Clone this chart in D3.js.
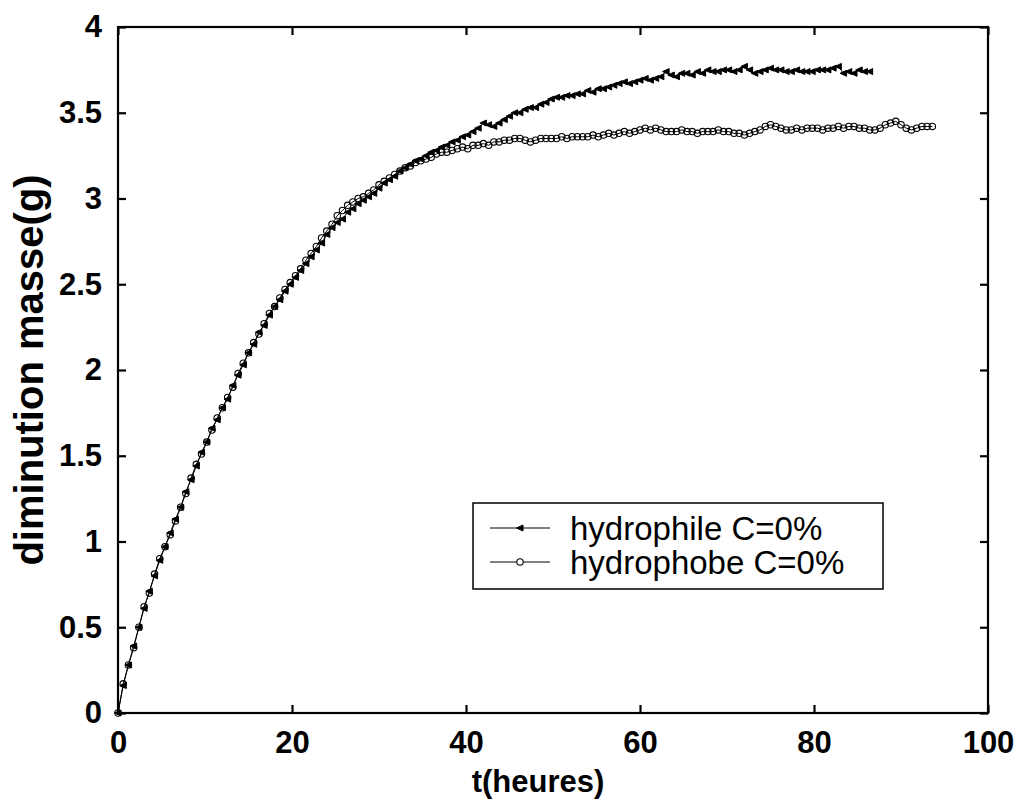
<!DOCTYPE html>
<html>
<head>
<meta charset="utf-8">
<script src="https://cdn.jsdelivr.net/npm/d3@7"></script>
<style>
  html, body { margin: 0; padding: 0; background: #fff; }
  svg { display: block; }
</style>
</head>
<body>
<svg id="chart" width="1019" height="801"></svg>
<script>
// ---------------- data ----------------
const timeStep = 0.6; // hours between samples
const xTicks = [0, 20, 40, 60, 80, 100];
const yTicks = [0, 0.5, 1, 1.5, 2, 2.5, 3, 3.5, 4];
const xTickLabels = ["0", "20", "40", "60", "80", "100"];
const yTickLabels = ["0", "0.5", "1", "1.5", "2", "2.5", "3", "3.5", "4"];
const xTitle = "t(heures)";
const yTitle = "diminution masse(g)";
const seriesNames = ["hydrophile C=0%", "hydrophobe C=0%"];

// mass loss (g), hydrophile, sampled every 0.6 h from t = 0
const hydrophile = [
  0, 0.16, 0.28, 0.39, 0.50, 0.61, 0.71, 0.80, 0.89, 0.97,
  1.05, 1.13, 1.20, 1.29, 1.36, 1.44, 1.52, 1.58, 1.66, 1.71,
  1.78, 1.83, 1.91, 1.97, 2.03, 2.10, 2.15, 2.22, 2.26, 2.32,
  2.37, 2.41, 2.46, 2.50, 2.54, 2.58, 2.62, 2.66, 2.70, 2.74,
  2.79, 2.83, 2.86, 2.88, 2.92, 2.94, 2.97, 2.99, 3.01, 3.03,
  3.06, 3.09, 3.11, 3.13, 3.16, 3.18, 3.20, 3.22, 3.23, 3.25,
  3.27, 3.28, 3.30, 3.31, 3.33, 3.34, 3.36, 3.37, 3.39, 3.41,
  3.44, 3.43, 3.42, 3.44, 3.46, 3.48, 3.50, 3.50, 3.52, 3.53,
  3.53, 3.55, 3.56, 3.58, 3.59, 3.59, 3.60, 3.60, 3.61, 3.61,
  3.63, 3.62, 3.64, 3.64, 3.65, 3.66, 3.67, 3.68, 3.67, 3.68,
  3.69, 3.70, 3.69, 3.70, 3.71, 3.74, 3.72, 3.71, 3.73, 3.73,
  3.72, 3.74, 3.73, 3.75, 3.74, 3.74, 3.75, 3.75, 3.74, 3.75,
  3.77, 3.75, 3.73, 3.74, 3.75, 3.76, 3.75, 3.75, 3.74, 3.74,
  3.75, 3.74, 3.74, 3.74, 3.75, 3.75, 3.75, 3.76, 3.77, 3.73,
  3.74, 3.73, 3.75, 3.74, 3.74
];

// mass loss (g), hydrophobe, sampled every 0.6 h from t = 0
const hydrophobe = [
  0, 0.17, 0.28, 0.38, 0.50, 0.62, 0.70, 0.81, 0.90, 0.97,
  1.04, 1.12, 1.20, 1.28, 1.37, 1.45, 1.51, 1.58, 1.65, 1.72,
  1.78, 1.84, 1.90, 1.98, 2.04, 2.10, 2.16, 2.21, 2.27, 2.33,
  2.37, 2.42, 2.47, 2.51, 2.55, 2.59, 2.64, 2.68, 2.72, 2.77,
  2.81, 2.85, 2.90, 2.93, 2.96, 2.98, 3.00, 3.01, 3.03, 3.05,
  3.08, 3.10, 3.12, 3.14, 3.16, 3.18, 3.19, 3.21, 3.22, 3.23,
  3.24, 3.26, 3.27, 3.27, 3.28, 3.29, 3.30, 3.29, 3.31, 3.31,
  3.32, 3.31, 3.33, 3.33, 3.34, 3.34, 3.35, 3.35, 3.34, 3.33,
  3.34, 3.35, 3.35, 3.35, 3.35, 3.36, 3.35, 3.36, 3.36, 3.36,
  3.36, 3.37, 3.36, 3.37, 3.38, 3.37, 3.38, 3.39, 3.38, 3.39,
  3.40, 3.41, 3.40, 3.41, 3.40, 3.39, 3.39, 3.39, 3.40, 3.39,
  3.39, 3.38, 3.39, 3.39, 3.39, 3.40, 3.39, 3.39, 3.38, 3.38,
  3.37, 3.38, 3.39, 3.40, 3.42, 3.43, 3.42, 3.41, 3.40, 3.40,
  3.41, 3.40, 3.41, 3.41, 3.41, 3.40, 3.41, 3.41, 3.42, 3.41,
  3.42, 3.42, 3.41, 3.41, 3.40, 3.40, 3.41, 3.43, 3.44, 3.45,
  3.43, 3.41, 3.40, 3.41, 3.42, 3.42, 3.42
];

// ---------------- layout ----------------
const plot = { left: 118, right: 988, top: 27, bottom: 713 };
const FONT = "'Liberation Sans', Arial, Helvetica, sans-serif";

const svg = d3.select("#chart");
svg.append("rect").attr("width", 1019).attr("height", 801).attr("fill", "#fff");

const x = d3.scaleLinear().domain([0, 100]).range([plot.left, plot.right]);
const y = d3.scaleLinear().domain([0, 4]).range([plot.bottom, plot.top]);

const toPoints = arr => arr.map((v, i) => ({ t: i * timeStep, v }));
const sPhile = toPoints(hydrophile);
const sPhobe = toPoints(hydrophobe);

const line = d3.line().x(d => x(d.t)).y(d => y(d.v));

// series
const gData = svg.append("g");
function drawSeries(data, marker) {
  gData.append("path").datum(data)
    .attr("d", line).attr("fill", "none").attr("stroke", "#000").attr("stroke-width", 1);
  const g = gData.append("g");
  if (marker === "tri") {
    g.selectAll("path").data(data).join("path")
      .attr("d", "M-3.5,0L3,-3L3,3Z")
      .attr("transform", d => `translate(${x(d.t)},${y(d.v)})`)
      .attr("fill", "#000").attr("stroke", "#000").attr("stroke-width", 1);
  } else {
    g.selectAll("circle").data(data).join("circle")
      .attr("cx", d => x(d.t)).attr("cy", d => y(d.v)).attr("r", 3.2)
      .attr("fill", "none").attr("stroke", "#000").attr("stroke-width", 1.1);
  }
}
drawSeries(sPhile, "tri");
drawSeries(sPhobe, "circ");

// axes box + ticks (ticks inward on all four sides)
const axisStroke = 2.2;
const tickLen = 8;
const gAx = svg.append("g");
gAx.append("rect")
  .attr("x", plot.left).attr("y", plot.top)
  .attr("width", plot.right - plot.left).attr("height", plot.bottom - plot.top)
  .attr("fill", "none").attr("stroke", "#000").attr("stroke-width", axisStroke);

const xFmt = d => xTickLabels[xTicks.indexOf(d)];
const yFmt = d => yTickLabels[yTicks.indexOf(d)];
const axB = d3.axisBottom(x).tickValues(xTicks).tickFormat(xFmt).tickSizeInner(-tickLen).tickSizeOuter(0).tickPadding(18);
const axT = d3.axisTop(x).tickValues(xTicks).tickSizeInner(-tickLen).tickSizeOuter(0).tickFormat("");
const axL = d3.axisLeft(y).tickValues(yTicks).tickFormat(yFmt).tickSizeInner(-tickLen).tickSizeOuter(0).tickPadding(16);
const axR = d3.axisRight(y).tickValues(yTicks).tickSizeInner(-tickLen).tickSizeOuter(0).tickFormat("");

function styleAxis(g) {
  g.select(".domain").remove();
  g.selectAll(".tick line").attr("stroke", "#000").attr("stroke-width", axisStroke);
  g.selectAll(".tick text")
    .attr("fill", "#000")
    .style("font-family", FONT).style("font-weight", "bold").style("font-size", "31px");
}
gAx.append("g").attr("transform", `translate(0,${plot.bottom})`).call(axB).call(styleAxis);
gAx.append("g").attr("transform", `translate(0,${plot.top})`).call(axT).call(styleAxis);
gAx.append("g").attr("transform", `translate(${plot.left},0)`).call(axL).call(styleAxis);
gAx.append("g").attr("transform", `translate(${plot.right},0)`).call(axR).call(styleAxis);

// axis titles
svg.append("text")
  .attr("x", 538).attr("y", 792)
  .attr("text-anchor", "middle")
  .style("font-family", FONT).style("font-weight", "bold").style("font-size", "31px")
  .text(xTitle);
svg.append("text")
  .attr("transform", `translate(43,${(plot.top + plot.bottom) / 2}) rotate(-90)`)
  .attr("text-anchor", "middle")
  .style("font-family", FONT).style("font-weight", "bold").style("font-size", "40px")
  .text(yTitle);

// legend
const lg = svg.append("g");
const lgBox = { x: 473, y: 503, w: 410, h: 86 };
lg.append("rect").attr("x", lgBox.x).attr("y", lgBox.y).attr("width", lgBox.w).attr("height", lgBox.h)
  .attr("fill", "#fff").attr("stroke", "#000").attr("stroke-width", 1.5);
const rows = [528, 562];
seriesNames.forEach((name, i) => {
  const cy = rows[i];
  lg.append("line").attr("x1", 490).attr("x2", 550).attr("y1", cy).attr("y2", cy)
    .attr("stroke", "#000").attr("stroke-width", 1);
  if (i === 0) {
    lg.append("path").attr("d", "M-3.5,0L3,-3L3,3Z")
      .attr("transform", `translate(520,${cy})`).attr("fill", "#000").attr("stroke", "#000");
  } else {
    lg.append("circle").attr("cx", 520).attr("cy", cy).attr("r", 3.2)
      .attr("fill", "#fff").attr("stroke", "#000").attr("stroke-width", 1.1);
  }
  lg.append("text").attr("x", 570).attr("y", cy).attr("dy", "0.36em")
    .style("font-family", FONT).style("font-size", "33px").attr("fill", "#000")
    .text(name);
});
</script>
</body>
</html>
